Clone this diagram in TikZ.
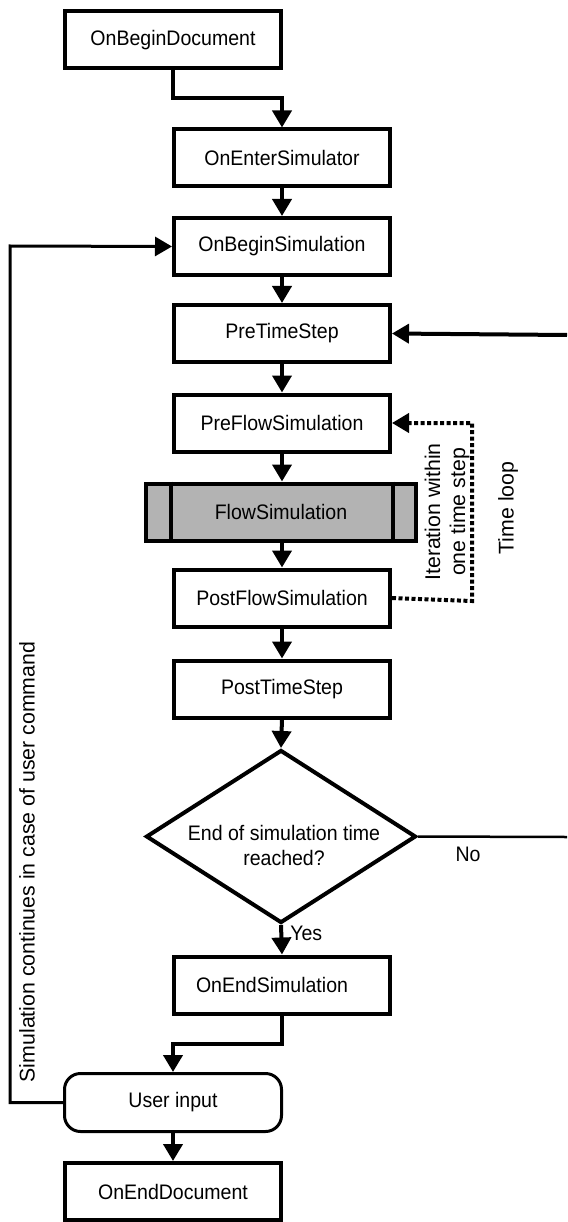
\documentclass[tikz,border=0pt]{standalone}
\usepackage{fontspec}
\setmainfont{Liberation Sans}
\newfontfamily\hfont[FakeStretch=0.93]{Liberation Sans}
\usetikzlibrary{arrows.meta,shapes.geometric,calc}
\begin{document}
\begin{tikzpicture}[x=1pt,y=-1pt,
  every node/.style={font=\hfont\fontsize{21pt}{25pt}\selectfont},
  rottext/.style={font=\rmfamily\fontsize{21.3pt}{25pt}\selectfont},
  proc/.style={draw,line width=4pt,minimum width=216pt,minimum height=57pt,inner sep=0pt},
  arr/.style={line width=4pt,-{Triangle[length=17pt,width=19pt]}},
  thinarr/.style={line width=3pt,-{Triangle[length=17pt,width=19pt]}},
  dotarr/.style={line width=4pt,dash pattern=on 4pt off 2.5pt,-{Triangle[length=17pt,width=19pt]}},
  plain/.style={line width=2.5pt},
  lbl/.style={inner sep=0pt}
]
\useasboundingbox (0,0) rectangle (567,1222);

\node[proc] (bdoc)   at (173,40)    {OnBeginDocument};
\node[proc] (ensim)  at (282,158)   {OnEnterSimulator};
\node[proc] (bsim)   at (282,246.5) {OnBeginSimulation};
\node[proc] (pts)    at (282,333.5) {PreTimeStep};
\node[proc] (pfs)    at (282,423)   {PreFlowSimulation};
\node[proc,fill={rgb,255:red,179;green,179;blue,179},minimum width=270pt] (fs) at (281,512) {FlowSimulation};
\draw[line width=4pt] ([xshift=27pt]fs.north west) -- ([xshift=27pt]fs.south west);
\draw[line width=4pt] ([xshift=-25pt]fs.north east) -- ([xshift=-25pt]fs.south east);
\node[proc] (postfs) at (282,598)   {PostFlowSimulation};
\node[proc] (postts) at (282,689)   {PostTimeStep};
\node[draw,diamond,line width=4pt,inner sep=0pt,aspect=1.55,minimum width=270pt,minimum height=173pt] (dia) at (281,836.5) {};
\node[lbl,align=center] (diatext) at (284,845) {End of simulation time\\reached?};
\node[proc] (oesim)  at (282,985)   {OnEndSimulation\hspace*{20pt}};
\node[draw,line width=3pt,rounded corners=16pt,minimum width=217pt,minimum height=58pt,inner sep=0pt] (uin) at (173,1102.5) {User input};
\node[proc] (edoc)   at (173,1191.5) {OnEndDocument};

% connectors
\coordinate (k1) at (173,98);
\coordinate (k2) at (282,98);
\draw[arr] (bdoc.south) -- (k1) -- (k2) -- (ensim.north);
\draw[arr] (ensim) -- (bsim);
\draw[arr] (bsim) -- (pts);
\draw[arr] (pts) -- (pfs);
\draw[arr] (pfs.south) -- (pfs.south |- fs.north);
\draw[arr] (fs.south -| postfs.north) -- (postfs.north);
\draw[arr] (postfs) -- (postts);
\draw[arr] (postts.south) -- (dia.north);
\draw[arr] (dia.south) -- (oesim.north) node[lbl,pos=0.3,right=7pt] (yes) {Yes};

\coordinate (noend) at (567,837);
\draw[plain] (dia.east) -- (noend);
\node[lbl] (no) at (468,854) {No};

\coordinate (tlstart) at (567,335);
\draw[arr] (tlstart) -- (pts.east);

\coordinate (d1) at (472,601);
\coordinate (d2) at (472,423);
\draw[dotarr] (postfs.east) -- (d1) -- (d2) -- (pfs.east);

\coordinate (e1) at (282,1044);
\coordinate (e2) at (173,1044);
\draw[arr] (oesim.south) -- (e1) -- (e2) -- (uin.north);
\draw[arr] (uin.south) -- (edoc.north);

\coordinate (l1) at (10,1102.5);
\coordinate (l2) at (10,246);
\draw[thinarr] (uin.west) -- (l1) -- (l2) -- (bsim.west);

% rotated labels
\node[lbl,rottext,rotate=90,align=center] (iter) at (447,512) {Iteration within\\one time step};
\node[lbl,rottext,rotate=90] (tloop) at (508,508) {Time loop};
\node[lbl,rottext,rotate=90] (simcont) at (27,862) {Simulation continues in case of user command};
\end{tikzpicture}
\end{document}
